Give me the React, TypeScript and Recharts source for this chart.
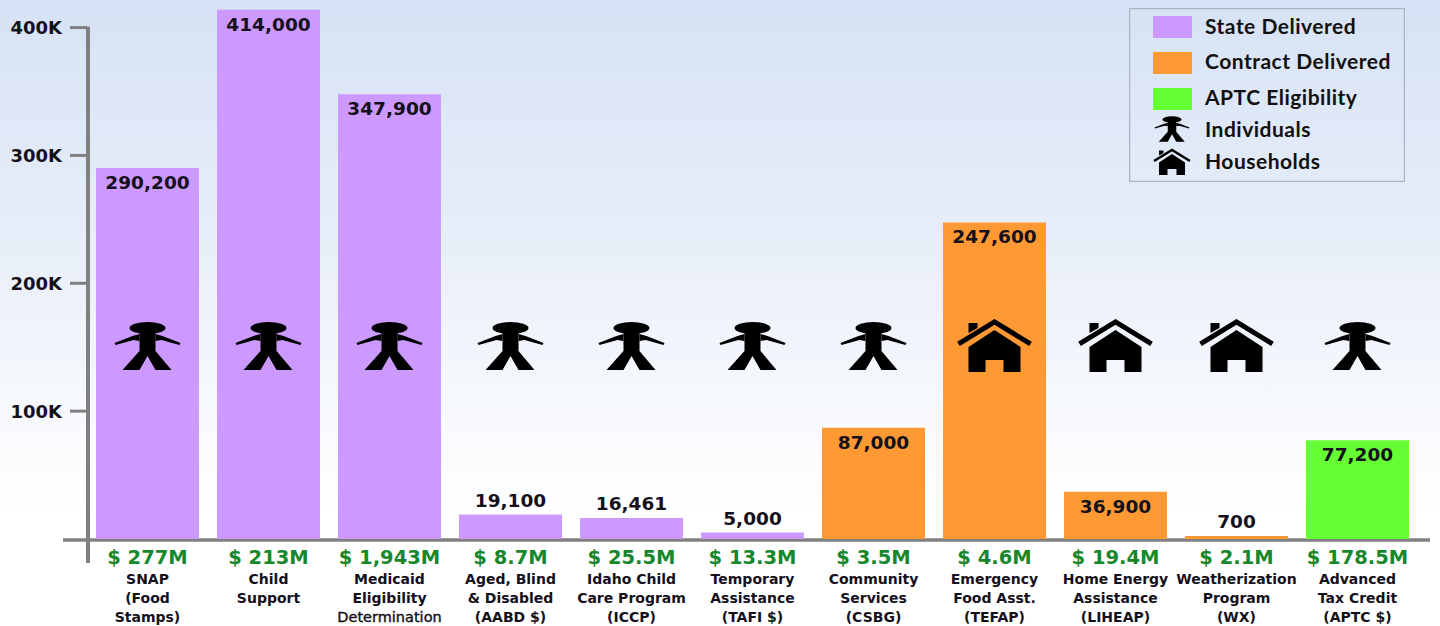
import { Bar, BarChart, Cell, LabelList, Legend, ReferenceArea, ReferenceDot, XAxis, YAxis } from "recharts";

const programs = ["SNAP", "Child Support", "Medicaid", "AABD", "ICCP", "TAFI", "CSBG", "TEFAP", "LIHEAP", "WX", "APTC"];
const recipients = [290200, 414000, 347900, 19100, 16461, 5000, 87000, 247600, 36900, 700, 77200];
const spending = ["$ 277M", "$ 213M", "$ 1,943M", "$ 8.7M", "$ 25.5M", "$ 13.3M", "$ 3.5M", "$ 4.6M", "$ 19.4M", "$ 2.1M", "$ 178.5M"];
const delivery = ["state", "state", "state", "state", "state", "state", "contract", "contract", "contract", "contract", "aptc"];
const units = ["person", "person", "person", "person", "person", "person", "person", "house", "house", "house", "person"];
const programLines = [
  ["SNAP", "(Food", "Stamps)"],
  ["Child", "Support"],
  ["Medicaid", "Eligibility", "Determination"],
  ["Aged, Blind", "& Disabled", "(AABD $)"],
  ["Idaho Child", "Care Program", "(ICCP)"],
  ["Temporary", "Assistance", "(TAFI $)"],
  ["Community", "Services", "(CSBG)"],
  ["Emergency", "Food Asst.", "(TEFAP)"],
  ["Home Energy", "Assistance", "(LIHEAP)"],
  ["Weatherization", "Program", "(WX)"],
  ["Advanced", "Tax Credit", "(APTC $)"],
];
const yTicks = [100000, 200000, 300000, 400000];
const ICON_LEVEL = 151000;

const COLORS: Record<string, string> = { state: "#cc99ff", contract: "#ff9933", aptc: "#66ff33" };
const AXIS_GRAY = "#808080";
const INK = "#14101c";
const VERDANA = "'DejaVu Sans', Verdana, sans-serif";
const CALIBRI = "Lato, 'Open Sans', sans-serif";

const data = programs.map((name, i) => ({ name, recipients: recipients[i] }));

function PersonGlyph({ x, y, scale = 1 }: { x: number; y: number; scale?: number }) {
  return (
    <g transform={`translate(${x} ${y}) scale(${scale})`} fill="#000">
      <ellipse cx={0} cy={-18} rx={18} ry={6} />
      <path d="M-8 -13H8V5L24 24H8L0 10L-8 24H-25L-8 5Z" />
      <path d="M-8 -12L-15 -10L-33 -3L-32 -1L-14 -6L-8 -5Z" />
      <path d="M8 -12L15 -10L33 -3L32 -1L14 -6L8 -5Z" />
    </g>
  );
}

function HouseGlyph({ x, y, scale = 1 }: { x: number; y: number; scale?: number }) {
  return (
    <g transform={`translate(${x} ${y}) scale(${scale})`} fill="#000">
      <path d="M-36 -2L0 -24L36 -2" fill="none" stroke="#000" strokeWidth={5} />
      <path d="M0 -16L26 1V26H9V14H-9V26H-26V1Z" />
      <path d="M-26 -23H-17V-18L-26 -13Z" />
    </g>
  );
}

function UnitIcon(props: any) {
  const Glyph = props.unit === "house" ? HouseGlyph : PersonGlyph;
  return <Glyph x={props.cx} y={props.cy} />;
}

// L-shaped frame: both axis lines run past the plot area
function AxisFrame({ x, y, width, height }: any) {
  const base = y + height;
  return (
    <g stroke={AXIS_GRAY}>
      <line x1={x + 1} y1={y - 1} x2={x + 1} y2={base + 24} strokeWidth={4} />
      <line x1={x - 24} y1={base + 1} x2={x + width + 12} y2={base + 1} strokeWidth={3.5} />
    </g>
  );
}

function ProgramTick({ x, index }: any) {
  return (
    <g textAnchor="middle" fontFamily={VERDANA} fontWeight={700}>
      <text x={x} y={564} fontSize={19.5} fill="#17872c">
        {spending[index]}
      </text>
      {programLines[index].map((line, row) => {
        // the long word is set in a lighter cut so it fits the column
        const long = line === "Determination";
        return (
          <text
            key={line}
            x={x}
            y={584 + row * 19}
            fontSize={long ? 14.5 : 14}
            fontWeight={long ? 400 : 700}
            stroke={long ? INK : "none"}
            strokeWidth={long ? 0.4 : 0}
            fill={INK}
          >
            {line}
          </text>
        );
      })}
    </g>
  );
}

// Tall bars carry their count inside the top edge, short ones sit it above
function CountLabel({ x, y, width, value }: any) {
  const inside = value > 30000;
  return (
    <text
      x={x + width / 2}
      y={inside ? y + 21 : y - 8}
      textAnchor="middle"
      fontFamily={VERDANA}
      fontWeight={700}
      fontSize={18.5}
      fill={INK}
    >
      {value.toLocaleString("en-US")}
    </text>
  );
}

function KeyBox() {
  const swatches = [
    { label: "State Delivered", color: COLORS.state, top: 8, mid: 19 },
    { label: "Contract Delivered", color: COLORS.contract, top: 44, mid: 54 },
    { label: "APTC Eligibility", color: COLORS.aptc, top: 80, mid: 90 },
  ];
  const textStyle = { fontFamily: CALIBRI, fontWeight: 700, fontSize: 21, letterSpacing: 0.5, fill: "#111" };
  return (
    <svg width={276} height={174} style={{ display: "block" }}>
      <rect x={0.5} y={0.5} width={275} height={173} fill="none" stroke="#aab4c4" strokeWidth={1.5} />
      {swatches.map((s) => (
        <g key={s.label}>
          <rect x={24} y={s.top} width={39} height={22} fill={s.color} />
          <text x={76} y={s.mid + 7} {...textStyle}>
            {s.label}
          </text>
        </g>
      ))}
      <PersonGlyph x={43} y={121} scale={0.53} />
      <text x={76} y={129} {...textStyle}>
        Individuals
      </text>
      <HouseGlyph x={43} y={154} scale={0.5} />
      <text x={76} y={161} {...textStyle}>
        Households
      </text>
    </svg>
  );
}

export default function App() {
  return (
    <div
      style={{
        position: "absolute",
        left: 0,
        top: 0,
        width: 1440,
        height: 626,
        background: "linear-gradient(180deg, #d6e2f5 0%, #e6edf8 35%, #f4f7fc 60%, #ffffff 82%)",
      }}
    >
      <BarChart width={1440} height={626} data={data} margin={{ top: 2, right: 22, bottom: 0, left: 0 }}>
        <XAxis dataKey="name" height={87} axisLine={false} tickLine={false} interval={0} tick={<ProgramTick />} />
        <YAxis
          width={87}
          domain={[0, 420000]}
          ticks={yTicks}
          axisLine={false}
          tickSize={17}
          tickMargin={8}
          tickLine={{ stroke: AXIS_GRAY, strokeWidth: 3 }}
          tickFormatter={(value: number) => `${value / 1000}K`}
          tick={{ fontFamily: VERDANA, fontWeight: 700, fontSize: 18, fill: INK }}
        />
        <ReferenceArea y1={0} y2={400000} shape={<AxisFrame />} />
        <Bar dataKey="recipients" barSize={103} minPointSize={3} isAnimationActive={false}>
          {data.map((d, i) => (
            <Cell key={d.name} fill={COLORS[delivery[i]]} />
          ))}
          <LabelList dataKey="recipients" content={<CountLabel />} />
        </Bar>
        {programs.map((name, i) => (
          <ReferenceDot key={name} x={name} y={ICON_LEVEL} isFront shape={<UnitIcon unit={units[i]} />} />
        ))}
        <Legend
          layout="vertical"
          align="center"
          verticalAlign="middle"
          wrapperStyle={{ left: 1129, top: 8, width: 276, height: 174 }}
          content={<KeyBox />}
        />
      </BarChart>
    </div>
  );
}
